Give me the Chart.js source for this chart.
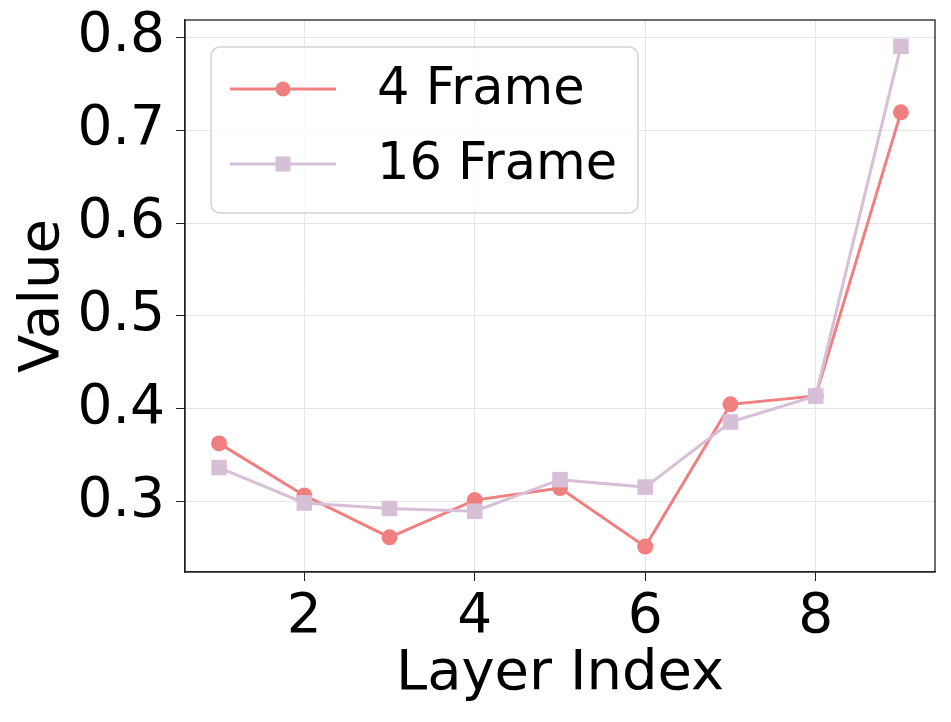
<!DOCTYPE html>
<html>
<head>
<meta charset="utf-8">
<script src="https://cdn.jsdelivr.net/npm/chart.js@4"></script>
<style>
  html, body { margin: 0; padding: 0; background: #fff; }
</style>
</head>
<body>
<canvas id="chart" width="951" height="722"></canvas>
<script>
// values
const layers = [1, 2, 3, 4, 5, 6, 7, 8, 9];
const frame4 = [0.363, 0.307, 0.262, 0.302, 0.315, 0.252, 0.405, 0.414, 0.719];
const frame16 = [0.337, 0.299, 0.293, 0.290, 0.324, 0.316, 0.386, 0.414, 0.790];
const xTicks = [2, 4, 6, 8];
const yTicks = [0.3, 0.4, 0.5, 0.6, 0.7, 0.8];

const FONT = "'DejaVu Sans', sans-serif";

// box round the plot area + legend inside, like matplotlib
const framePlugin = {
  id: "frame",
  afterDatasetsDraw(chart) {
    const { ctx, chartArea: a } = chart;
    ctx.save();
    ctx.strokeStyle = "#222";
    ctx.lineWidth = 1.3;
    ctx.strokeRect(a.left, a.top, a.right - a.left, a.bottom - a.top);
    ctx.restore();
  },
  afterDraw(chart) {
    const ctx = chart.ctx;
    const x = 211, y = 47, w = 427, h = 166, r = 9;
    ctx.save();
    ctx.beginPath();
    ctx.roundRect(x, y, w, h, r);
    ctx.fillStyle = "rgba(255,255,255,0.8)";
    ctx.fill();
    ctx.strokeStyle = "#d4d4d4";
    ctx.lineWidth = 1.5;
    ctx.stroke();

    const rows = [89, 164];
    chart.data.datasets.forEach((ds, i) => {
      const cy = rows[i];
      ctx.strokeStyle = ds.borderColor;
      ctx.lineWidth = 3;
      ctx.beginPath();
      ctx.moveTo(230, cy);
      ctx.lineTo(336, cy);
      ctx.stroke();
      ctx.fillStyle = ds.borderColor;
      if (ds.pointStyle === "rect") {
        ctx.fillRect(283 - 7.5, cy - 7.5, 15, 15);
      } else {
        ctx.beginPath();
        ctx.arc(283, cy, 7.5, 0, Math.PI * 2);
        ctx.fill();
      }
      ctx.fillStyle = "#000";
      ctx.font = "51px " + FONT;
      ctx.textBaseline = "middle";
      ctx.textAlign = "left";
      ctx.fillText(ds.label, 377, cy + 2);
    });
    ctx.restore();
  }
};

new Chart(document.getElementById("chart"), {
  type: "line",
  data: {
    datasets: [
      {
        label: "4 Frame",
        data: layers.map((l, i) => ({ x: l, y: frame4[i] })),
        borderColor: "#f08080",
        backgroundColor: "#f08080",
        borderWidth: 3,
        pointStyle: "circle",
        pointRadius: 8,
        pointBorderWidth: 0,
        order: 1
      },
      {
        label: "16 Frame",
        data: layers.map((l, i) => ({ x: l, y: frame16[i] })),
        borderColor: "#d8bfd8",
        backgroundColor: "#d8bfd8",
        borderWidth: 3,
        pointStyle: "rect",
        pointRadius: 11,
        pointBorderWidth: 0,
        order: 0
      }
    ]
  },
  options: {
    responsive: false,
    devicePixelRatio: 1,
    animation: false,
    layout: { padding: { top: 20, right: 16, left: 0, bottom: 0 } },
    plugins: { legend: { display: false }, tooltip: { enabled: false } },
    scales: {
      x: {
        type: "linear",
        min: 0.6,
        max: 9.4,
        afterBuildTicks: (s) => { s.ticks = xTicks.map(v => ({ value: v })); },
        afterFit: (s) => { s.height = 150; s.paddingLeft = 0; s.paddingRight = 0; },
        grid: { color: "#e6e6e6", lineWidth: 1, tickColor: "#222", tickLength: 9 },
        border: { color: "#222", width: 1.3 },
        ticks: { color: "#000", font: { family: FONT, size: 55 }, padding: 4, maxRotation: 0 },
        title: { display: true, text: "Layer Index", color: "#000", font: { family: FONT, size: 56 }, padding: { top: 0, bottom: 14 } }
      },
      y: {
        min: 0.2247,
        max: 0.8183,
        afterBuildTicks: (s) => { s.ticks = yTicks.map(v => ({ value: v })); },
        afterFit: (s) => { s.width = 185; s.paddingTop = 0; s.paddingBottom = 0; },
        grid: { color: "#e6e6e6", lineWidth: 1, tickColor: "#222", tickLength: 9 },
        border: { color: "#222", width: 1.3 },
        ticks: { color: "#000", font: { family: FONT, size: 55 }, padding: 11, callback: (v) => v.toFixed(1) },
        title: { display: true, text: "Value", color: "#000", font: { family: FONT, size: 56 }, padding: { top: 10, bottom: 0 } }
      }
    }
  },
  plugins: [framePlugin]
});
</script>
</body>
</html>
